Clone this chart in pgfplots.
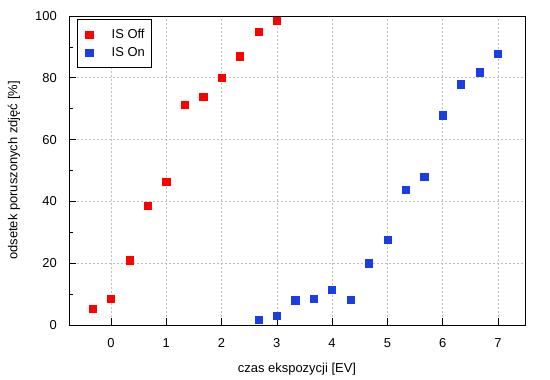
\documentclass[border=0pt]{standalone}
\usepackage{fontspec}
\setmainfont{Liberation Sans}
\usepackage{pgfplots}
\pgfplotsset{compat=1.18}
\usetikzlibrary{calc}
\definecolor{offred}{RGB}{255,0,0}
\definecolor{onblue}{RGB}{26,62,228}
\definecolor{gridgray}{RGB}{190,190,190}
\begin{document}
\begin{tikzpicture}
\begin{axis}[
  name=ax,
  scale only axis,
  width=456bp, height=309bp,
  xmin=-0.76, xmax=7.49,
  ymin=0, ymax=100,
  xtick={0,1,...,7},
  ytick={0,20,...,100},
  minor ytick={10,30,50,70,90},
  xtick pos=left, ytick pos=left,
  tick align=inside,
  major tick length=7bp,
  minor tick length=4bp,
  every tick/.style={black, line width=0.6pt},
  grid=major,
  major grid style={gridgray, dash pattern=on 2bp off 2bp, line width=0.6pt},
  axis line style={black, line width=0.8pt},
  font=\fontsize{13}{15}\selectfont,
  /pgf/number format/assume math mode=true,
  xticklabel style={anchor=center, inner sep=0pt, yshift=-18bp},
  yticklabel style={anchor=east, inner sep=0pt, xshift=-12bp},
  xlabel={czas ekspozycji [EV]},
  ylabel={odsetek poruszonych zdjęć [\%]},
  xlabel style={at={(axis description cs:0.5,0)}, anchor=center, yshift=-44bp},
  ylabel style={at={(axis description cs:0,0.5)}, anchor=center, yshift=55bp},
  legend style={at={(0,1)}, anchor=north west, xshift=8bp, yshift=-3.5bp,
    draw=black, line width=0.8pt, font=\fontsize{13}{15}\selectfont,
    inner xsep=2bp, inner ysep=6bp,
    nodes={inner xsep=4.3bp, inner ysep=3.5bp}},
  legend cell align=left,
  legend image code/.code={\path[draw=none] (0bp,0bp) -- (28bp,0bp); \draw plot coordinates {(10bp,0bp)};},
]
\addplot[only marks, mark=square*, mark size=3.6bp, color=offred, mark options={draw=none, fill=offred}] coordinates {
(-0.333,5.2) (0,8.4) (0.333,21) (0.667,38.5) (1,46.3) (1.333,71.2) (1.667,74) (2,80) (2.333,87) (2.667,95) (3,98.4)
};
\addlegendentry{IS Off}
\addplot[only marks, mark=square*, mark size=3.6bp, color=onblue, mark options={draw=none, fill=onblue}] coordinates {
(2.667,1.8) (3,3.1) (3.333,8) (3.667,8.6) (4,11.5) (4.333,8.3) (4.667,20) (5,27.7) (5.333,43.9) (5.667,48.1) (6,67.9) (6.333,77.9) (6.667,81.8) (7,87.9)
};
\addlegendentry{IS On}
\end{axis}
\pgfresetboundingbox
\path ($(ax.south west)+(-69bp,-55bp)$) rectangle ($(ax.north east)+(25bp,16bp)$);
\end{tikzpicture}
\end{document}
